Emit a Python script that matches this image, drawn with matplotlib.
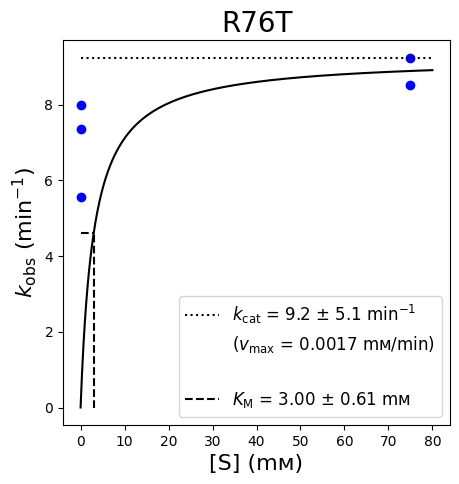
import numpy as np
import matplotlib
matplotlib.use("Agg")
import matplotlib.pyplot as plt

# data
s_obs = [0, 0, 0, 75, 75]
k_obs = [8.0, 7.35, 5.57, 9.25, 8.52]
kcat = 9.25
kcat_label = "9.2 ± 5.1"
km = 3.00
km_label = "3.00 ± 0.61"
vmax_label = "0.0017"
s_max = 80

def mm(s):
  return kcat*s/(km+s)

fig = plt.figure(figsize=(4.6, 4.84), dpi=100)
ax = fig.add_axes([63/460, 59/484, 387/460, 385/484])

s_fit = np.linspace(0, s_max, 500)
ax.plot(s_fit, mm(s_fit), color='k')
ax.plot(s_obs, k_obs, 'o', color='blue')

ax.plot([0, s_max], [kcat, kcat], ':', color='k',
  label=r"$k_\mathrm{cat}$ = %s min$^{-1}$" % kcat_label)
ax.plot([], [], ' ', label=r"($v_\mathrm{max}$ = %s mᴍ/min)" % vmax_label)
ax.plot([], [], ' ', label=" ")
ax.plot([0, km], [kcat/2, kcat/2], '--', color='k',
  label=r"$K_\mathrm{M}$ = %s mᴍ" % km_label)
ax.plot([km, km], [0, kcat/2], '--', color='k')

ax.set_title("R76T", fontsize=20)
ax.set_xlabel("[S] (mᴍ)", fontsize=16)
ax.set_ylabel(r"$k_\mathrm{obs}$ (min$^{-1}$)", fontsize=16)
ax.legend(loc='lower right', fontsize=12)

fig.savefig("out.png", dpi=100)
